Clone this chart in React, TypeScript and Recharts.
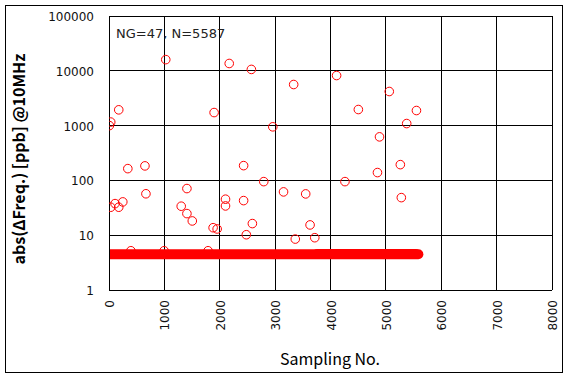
import React from "react";
import { ComposedChart, Scatter, Line, XAxis, YAxis, CartesianGrid } from "recharts";

// NG outliers: sample number and abs(ΔFreq.) [ppb]
const ngSamples = [
  1025, 176, 31, 7, 1898, 340, 649, 667, 1407, 31, 109, 176, 249, 1304, 1407, 1504, 1880, 1953,
  2171, 2571, 4110, 3335, 2958, 2431, 2795, 3152, 3552, 2104, 2104, 2431, 2589, 3631, 2480, 3364, 3716,
  5061, 4503, 5552, 5376, 4885, 5261, 4848, 4261, 5279,
];
const ngValues = [
  16000, 1940, 1160, 1000, 1730, 164, 184, 57, 71, 32.4, 37.7, 32.4, 40.5, 33.8, 24.8, 18.2, 13.7, 13.0,
  13600, 10600, 8200, 5620, 950, 186, 95, 61.7, 56.7, 45.4, 34.2, 42.8, 16.3, 15.4, 10.2, 8.5, 9.0,
  4190, 1965, 1884, 1090, 623, 194, 139, 95, 48.5,
];
// points just above the dense band
const nearSamples = [395, 995, 1789];
const nearValues = [5.2, 5.2, 5.2];
// dense band of OK samples (sample 1..5587 at about 4.5 ppb)
const bandSamples = [1, 5587];
const bandValues = [4.5, 4.5];
// slightly higher part of the band toward the end
const bandHiSamples = [3760, 5540];
const bandHiValues = [4.75, 4.75];

const xTicks = [0, 1000, 2000, 3000, 4000, 5000, 6000, 7000, 8000];
const yTicks = [1, 10, 100, 1000, 10000, 100000];
const noteText = "NG=47, N=5587";
const xTitle = "Sampling No.";
const yTitle = "abs(ΔFreq.) [ppb] @10MHz";

const ngData = ngSamples.map((x, i) => ({ x, y: ngValues[i] }));
const nearData = nearSamples.map((x, i) => ({ x, y: nearValues[i] }));
const bandData = bandSamples.map((x, i) => ({ x, y: bandValues[i] }));
const bandHiData = bandHiSamples.map((x, i) => ({ x, y: bandHiValues[i] }));

const RED = "#ff0000";
const TICK_FONT = "'DejaVu Sans', sans-serif";
const TITLE_FONT = "'Noto Sans CJK KR', 'Noto Sans', sans-serif";

const ring = (props: any) => (
  <circle cx={props.cx} cy={props.cy} r={4.3} fill="none" stroke={RED} strokeWidth={1} />
);

const XTick = (props: any) => {
  const { x, y, payload } = props;
  return (
    <text
      transform={`translate(${x + 5},${y + 10}) rotate(-90)`}
      textAnchor="end"
      fontFamily={TICK_FONT}
      fontSize={12}
      fill="#111"
    >
      {payload.value}
    </text>
  );
};

const YTick = (props: any) => {
  const { x, y, payload } = props;
  return (
    <text x={x - 15} y={y + 5} textAnchor="end" fontFamily={TICK_FONT} fontSize={12} fill="#111">
      {payload.value}
    </text>
  );
};

export default function App() {
  return (
    <div style={{ position: "absolute", left: 0, top: 0, width: 568, height: 379, background: "#fff" }}>
      <style>{`.recharts-cartesian-grid line, .recharts-cartesian-axis-line { shape-rendering: crispEdges; }`}</style>
      <div
        style={{
          position: "absolute",
          left: 5,
          top: 5,
          width: 558,
          height: 368,
          border: "1px solid #000",
          boxSizing: "border-box",
        }}
      />
      <div style={{ position: "absolute", left: 0, top: 0 }}>
        <ComposedChart width={568} height={379} margin={{ top: 16, right: 16, bottom: 49, left: 29 }}>
          <CartesianGrid stroke="#000" strokeWidth={1} strokeOpacity={1} />
          <XAxis
            type="number"
            dataKey="x"
            domain={[0, 8000]}
            ticks={xTicks}
            interval={0}
            height={40}
            tickLine={false}
            tickSize={0}
            tickMargin={0}
            axisLine={{ stroke: "#000" }}
            tick={<XTick />}
            allowDataOverflow
          />
          <YAxis
            type="number"
            dataKey="y"
            scale="log"
            domain={[1, 100000]}
            ticks={yTicks}
            interval={0}
            width={80}
            tickLine={false}
            tickSize={0}
            tickMargin={0}
            axisLine={{ stroke: "#000" }}
            tick={<YTick />}
            allowDataOverflow
          />
          <Line
            data={bandData}
            dataKey="y"
            stroke={RED}
            strokeWidth={10}
            strokeLinecap="round"
            dot={false}
            activeDot={false}
            isAnimationActive={false}
          />
          <Line
            data={bandHiData}
            dataKey="y"
            stroke={RED}
            strokeWidth={8}
            strokeLinecap="round"
            dot={false}
            activeDot={false}
            isAnimationActive={false}
          />
          <Scatter data={nearData} shape={ring} isAnimationActive={false} />
          <Scatter data={ngData} shape={ring} isAnimationActive={false} />
          <text x={116} y={38} fontFamily={TICK_FONT} fontSize={13} fill="#222">
            {noteText}
          </text>
          <text x={330} y={365} textAnchor="middle" fontFamily={TITLE_FONT} fontSize={16} fill="#000">
            {xTitle}
          </text>
          <text
            transform="translate(25,159) rotate(-90)"
            textAnchor="middle"
            fontFamily={TITLE_FONT}
            fontSize={16}
            fontWeight="bold"
            fill="#000"
          >
            {yTitle}
          </text>
        </ComposedChart>
      </div>
    </div>
  );
}
